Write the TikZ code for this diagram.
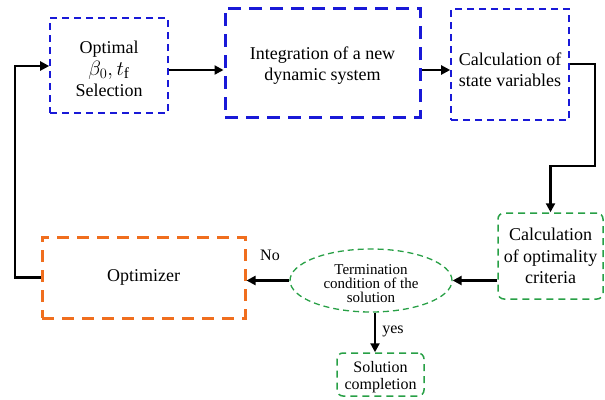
\documentclass[tikz,border=0pt]{standalone}
\usepackage{fontspec}
\setmainfont{Liberation Serif}
\usetikzlibrary{arrows.meta,shapes.geometric}
\definecolor{dblue}{RGB}{25,25,215}
\definecolor{dorange}{RGB}{240,110,30}
\definecolor{dgreen}{RGB}{40,160,70}
\tikzset{
  bluebox/.style={draw=dblue,line width=1.6pt,dash pattern=on 7pt off 5pt,inner sep=0pt,align=center,font=\fontsize{18}{21}\selectfont},
  bigblue/.style={draw=dblue,line width=3pt,dash pattern=on 13pt off 8pt,inner sep=0pt,align=center,font=\fontsize{18}{21}\selectfont},
  orangebox/.style={draw=dorange,line width=3pt,dash pattern=on 12pt off 8pt,inner sep=0pt,align=center,font=\fontsize{18}{21}\selectfont},
  greenbox/.style={draw=dgreen,line width=1.5pt,dash pattern=on 7pt off 5pt,rounded corners=6pt,inner sep=0pt,align=center},
  greenell/.style={draw=dgreen,line width=1.3pt,dash pattern=on 6pt off 4pt,ellipse,inner sep=0pt,align=center},
  arr/.style={draw=black,line width=2.2pt,-{Triangle[length=9pt,width=9pt]}},
  lbl/.style={font=\fontsize{16}{18}\selectfont,inner sep=0pt},
  txt/.style={inner sep=0pt,align=center}
}
\begin{document}
\begin{tikzpicture}[x=1pt,y=-1pt]
\useasboundingbox (0,0) rectangle (605,399);
\node[bluebox,minimum width=118pt,minimum height=95pt] (box1) at (109,65.5) {};
\node[txt,font=\fontsize{18}{21}\selectfont] (t1) at (109,68.5)
  {Optimal\\[1pt] {\fontsize{22}{22}\selectfont$\beta_0,t_{\mathrm f}$}\\ Selection};
\node[bigblue,minimum width=195pt,minimum height=109pt] (box2) at (322.5,62.5) {};
\node[txt,font=\fontsize{18}{21}\selectfont] (t2) at (322.5,66) {Integration of a new\\ dynamic system};
\node[bluebox,minimum width=118pt,minimum height=111pt] (box3) at (510,64.5) {};
\node[txt,font=\fontsize{18}{21}\selectfont] (t3) at (510,70) {Calculation of\\ state variables};
\node[greenbox,minimum width=105pt,minimum height=86pt,font=\fontsize{18}{21.5}\selectfont] (box4) at (550.5,256)
  {Calculation\\ of optimality\\ criteria};
\node[greenell,minimum width=162pt,minimum height=63pt] (ell) at (371,280.5) {};
\node[txt,font=\fontsize{15}{14}\selectfont] (t5) at (371,284) {Termination\\ condition of the\\ solution};
\node[orangebox,minimum width=203pt,minimum height=81pt] (opt) at (143.5,277.5)
  {Optimizer};
\node[greenbox,minimum width=87pt,minimum height=43pt,font=\fontsize{16}{17}\selectfont] (sol) at (380.5,374.5) {};
\node[txt,font=\fontsize{16}{17}\selectfont] (t7) at (380.5,377) {Solution\\ completion};
\coordinate (c1) at (595,166);
\coordinate (lx) at (15,0);
\draw[arr] (box1.east |- 0,70) -- (box2.west |- 0,70);
\draw[arr] (box2.east |- 0,70) -- (box3.west |- 0,70);
\draw[arr] (box3.east |- 0,64) -- (c1 |- 0,64) -- (c1) -| (box4.north);
\draw[arr] (box4.west |- ell.east) -- (ell.east);
\draw[arr] (ell.west) -- (opt.east |- ell.west);
\draw[arr] (opt.west) -- (opt.west -| lx) |- (box1.west |- 0,66);
\draw[arr] (ell.south -| 375,0) -- (sol.north -| 375,0);
\node[lbl] (no) at (270,255) {No};
\node[lbl] (yes) at (393,331) {yes};
\end{tikzpicture}
\end{document}
